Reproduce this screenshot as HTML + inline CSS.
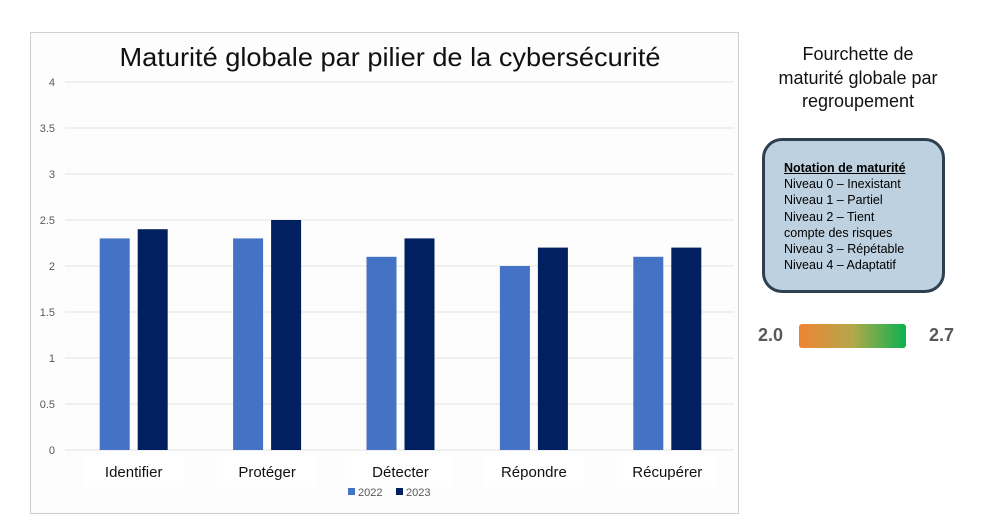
<!DOCTYPE html>
<html><head><meta charset="utf-8">
<style>
body{margin:0;width:1005px;height:530px;background:#fff;position:relative;overflow:hidden;font-family:"Liberation Sans",sans-serif}
#frame{position:absolute;left:30px;top:32px;width:707px;height:480px;border:1px solid #cfcfcf;background:#fdfdfd}
.side{position:absolute;left:760px;top:43px;width:196px;text-align:center;font-size:18px;line-height:23.5px;color:#111}
#box{position:absolute;left:762px;top:138px;width:177px;height:149px;border:3px solid #2e3f50;border-radius:20px;background:#bdd1e0;font-size:12.5px;line-height:16.2px;color:#000;box-sizing:content-box}
#box div{position:absolute;left:19px;top:19px;width:136px}
.num{position:absolute;top:325px;font-size:18px;font-weight:bold;color:#595959}
#grad{position:absolute;left:799px;top:324px;width:107px;height:24px;border-radius:3px;background:linear-gradient(90deg,#ef8433,#b3a84a,#0bb14f)}
</style></head><body>
<div id="frame"></div>
<svg id="chart" width="1005" height="530" style="position:absolute;left:0;top:0"></svg>
<div class="side">Fourchette de<br>maturité globale par<br>regroupement</div>
<div id="box"><div><b><u>Notation de maturité</u></b><br>Niveau 0 – Inexistant<br>Niveau 1 – Partiel<br>Niveau 2 – Tient<br>compte des risques<br>Niveau 3 – Répétable<br>Niveau 4 – Adaptatif</div></div>
<div class="num" style="left:758px">2.0</div>
<div id="grad"></div>
<div class="num" style="left:929px">2.7</div>
<script>
const categories=["Identifier","Protéger","Détecter","Répondre","Récupérer"];
const values2022=[2.3,2.3,2.1,2.0,2.1];
const values2023=[2.4,2.5,2.3,2.2,2.2];
const ticks=[0,0.5,1,1.5,2,2.5,3,3.5,4];
const NS="http://www.w3.org/2000/svg";
const svg=document.getElementById('chart');
const x0=67,x1=734,y0=450,yTop=82,maxV=4;
const y=v=>y0-(v/maxV)*(y0-yTop);
const band=(x1-x0)/categories.length;
const cx=i=>x0+band*(i+0.5);
function mk(t,a){const e=document.createElementNS(NS,t);for(const k in a)e.setAttribute(k,a[k]);svg.appendChild(e);return e;}
let t=mk('text',{x:390,y:66,'text-anchor':'middle','font-size':26,fill:'#111','font-family':'Liberation Sans, sans-serif',textLength:541,lengthAdjust:'spacingAndGlyphs'});
t.textContent='Maturité globale par pilier de la cybersécurité';


ticks.forEach(v=>{
 const l=mk('line',{x1:x0-2,x2:x1,y1:y(v),y2:y(v),stroke:'#e3e3e3'});
 
 
 const tt=mk('text',{x:55,y:y(v)+4,'text-anchor':'end','font-size':11,fill:'#595959'});
 tt.textContent=String(v);
 
 
});
categories.forEach((c,i)=>{
 const b1=mk('rect',{x:cx(i)-34,y:y(values2022[i]),width:30,height:y0-y(values2022[i]),fill:'#4472c4'});
 
 
 const b2=mk('rect',{x:cx(i)+4,y:y(values2023[i]),width:30,height:y0-y(values2023[i]),fill:'#002060'});
 
 
 const bg=mk('rect',{x:cx(i)-50,y:455,width:100,height:32,fill:'#fff'});
 
 
 const lt=mk('text',{x:cx(i),y:477,'text-anchor':'middle','font-size':15,fill:'#111'});
 lt.textContent=c;
 
 
});
[['2022','#4472c4',348],['2023','#002060',396]].forEach(([n,col,lx])=>{
 const r=mk('rect',{x:lx,y:488,width:7,height:7,fill:col});
 
 
 const tx=mk('text',{x:lx+10,y:496,'font-size':11,fill:'#595959'});
 tx.textContent=n;
 
 
});
</script>
</body></html>
